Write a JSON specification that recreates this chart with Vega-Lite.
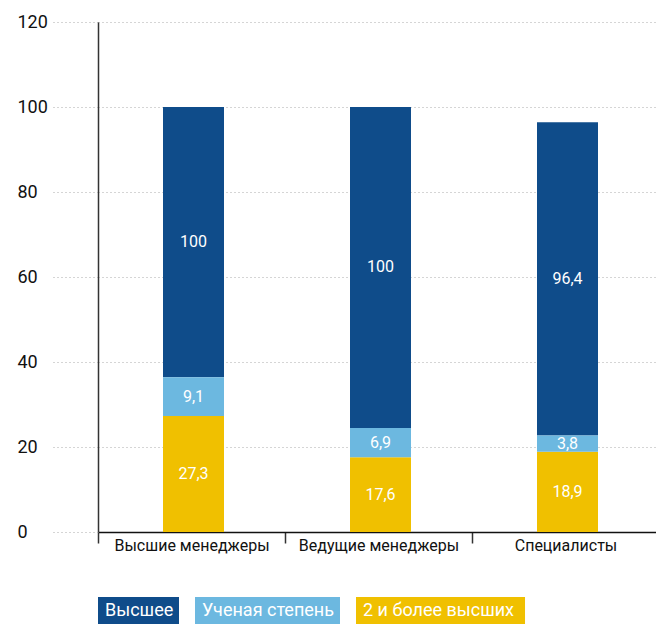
{
  "$schema": "https://vega.github.io/schema/vega-lite/v6.json",
  "width": 558,
  "height": 510,
  "autosize": {"type": "none"},
  "padding": {"left": 98, "top": 22, "right": 0, "bottom": 92},
  "background": "white",
  "config": {
    "font": "Roboto",
    "view": {"stroke": null},
    "locale": {"number": {"decimal": ",", "thousands": " ", "grouping": [3], "currency": ["", ""]}},
    "legend": {
      "orient": "none",
      "legendX": 0,
      "legendY": 575,
      "direction": "horizontal",
      "title": null,
      "padding": 0,
      "labelColor": "white",
      "labelFontSize": 18,
      "labelLimit": 0,
      "labelOffset": -20,
      "symbolSize": 729,
      "symbolStrokeWidth": 0,
      "symbolOpacity": 1,
      "columnPadding": 16
    }
  },
  "data": {
    "values": [
      {"group": "Высшие менеджеры", "series": "2 и более высших", "k": 1, "value": 27.3},
      {"group": "Высшие менеджеры", "series": "Ученая степень", "k": 2, "value": 9.1},
      {"group": "Высшие менеджеры", "series": "Высшее", "k": 3, "value": 100},
      {"group": "Ведущие менеджеры", "series": "2 и более высших", "k": 1, "value": 17.6},
      {"group": "Ведущие менеджеры", "series": "Ученая степень", "k": 2, "value": 6.9},
      {"group": "Ведущие менеджеры", "series": "Высшее", "k": 3, "value": 100},
      {"group": "Специалисты", "series": "2 и более высших", "k": 1, "value": 18.9},
      {"group": "Специалисты", "series": "Ученая степень", "k": 2, "value": 3.8},
      {"group": "Специалисты", "series": "Высшее", "k": 3, "value": 96.4}
    ]
  },
  "transform": [
    {"stack": "value", "groupby": ["group"], "sort": [{"field": "k", "order": "ascending"}], "as": ["y0", "y1"]},
    {"calculate": "datum.series === 'Высшее' ? (datum.y0 + datum.value) / 2 : (datum.y0 + datum.y1) / 2", "as": "ymid"}
  ],
  "encoding": {
    "x": {
      "field": "group",
      "type": "nominal",
      "sort": ["Высшие менеджеры", "Ведущие менеджеры", "Специалисты"],
      "scale": {"paddingInner": 0, "paddingOuter": 0, "range": [0, 561]},
      "axis": {
        "title": null,
        "labelAngle": 0,
        "domainColor": "#111111",
        "domainWidth": 1.5,
        "tickBand": "extent",
        "tickSize": 11,
        "tickColor": "#333333",
        "tickWidth": 1.5,
        "labelFontSize": 16,
        "labelColor": "#111111",
        "labelPadding": -6,
        "labelLimit": 0
      }
    }
  },
  "layer": [
    {
      "transform": [{"filter": "datum.series === 'Высшее'"}],
      "mark": {"type": "bar", "size": 61, "xOffset": 2},
      "encoding": {
        "y": {
          "field": "y0",
          "type": "quantitative",
          "scale": {"domain": [0, 120]},
          "axis": {
            "title": null,
            "values": [0, 20, 40, 60, 80, 100, 120],
            "domain": true,
            "domainColor": "#333333",
            "domainWidth": 1.5,
            "grid": true,
            "gridDash": [1, 3],
            "gridColor": "#aaaaaa",
            "tickSize": 46,
            "tickDash": [1, 3],
            "tickColor": "#aaaaaa",
            "labelPadding": 35,
            "labelAlign": "left",
            "labelBaseline": "middle",
            "labelFontSize": 18,
            "labelColor": "#111111"
          }
        },
        "y2": {"field": "value"},
        "color": {
          "field": "series",
          "type": "nominal",
          "scale": {"domain": ["Высшее", "Ученая степень", "2 и более высших"], "range": ["#0F4C8A", "#6CB8E0", "#F0C000"]}
        }
      }
    },
    {
      "transform": [{"filter": "datum.series !== 'Высшее'"}],
      "mark": {"type": "bar", "size": 61, "xOffset": 2},
      "encoding": {
        "y": {"field": "y0", "type": "quantitative"},
        "y2": {"field": "y1"},
        "color": {"field": "series", "type": "nominal"}
      }
    },
    {
      "mark": {"type": "text", "color": "white", "fontSize": 16, "xOffset": 2},
      "encoding": {
        "y": {"field": "ymid", "type": "quantitative"},
        "text": {"field": "value", "type": "quantitative", "format": ".1~f"}
      }
    },
    {
      "mark": {"type": "point", "filled": true, "opacity": 0},
      "encoding": {
        "color": {"field": "series", "type": "nominal"},
        "shape": {
          "field": "series",
          "type": "nominal",
          "scale": {
            "domain": ["Высшее", "Ученая степень", "2 и более высших"],
            "range": ["M-1,-1H5V1H-1Z", "M-1,-1H9.74V1H-1Z", "M-1,-1H11.52V1H-1Z"]
          }
        }
      }
    }
  ]
}
